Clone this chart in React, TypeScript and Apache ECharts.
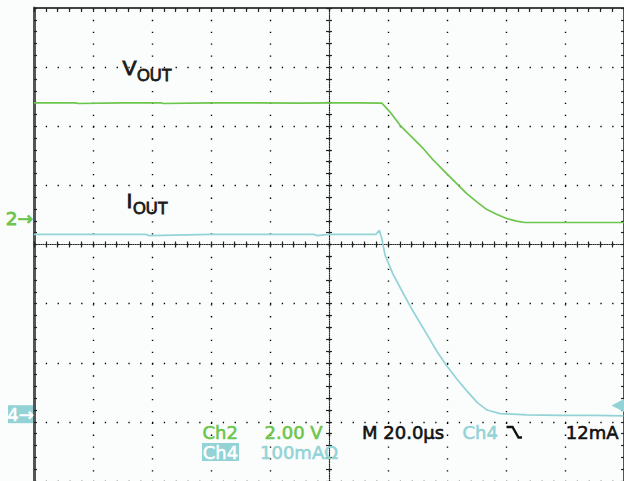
import React, { useEffect, useRef } from "react";
import * as echarts from "echarts";

// Scope settings
const GREEN = "#6cc54c";
const CYAN = "#93d3d6";
const TIME_PER_DIV_US = 20; // M 20.0µs
const CH2_VOLTS_PER_DIV = 2; // 2.00 V
const CH4_MA_PER_DIV = 100; // 100mAΩ
const CH2_GROUND_DIV = 0.44; // "2→" marker position (divisions above centre)
const CH4_GROUND_DIV = -2.87; // "4→" marker position
const TRIGGER_MA = 12;

// Ch2: VOUT (time in µs relative to screen centre, volts)
const voutTime = [-100, -86, -85, -70, -57, -56, -40, -25, -10, 0, 10, 17.9, 20.7, 24.1, 28.6, 32.0, 35.4, 39.9, 43.3, 46.7, 50.1, 53.4, 56.8, 60.2, 63.6, 66.4, 75, 100];
const voutVolts = [3.91, 3.91, 3.89, 3.91, 3.91, 3.89, 3.91, 3.91, 3.9, 3.91, 3.91, 3.905, 3.6, 3.15, 2.7, 2.36, 1.97, 1.52, 1.18, 0.84, 0.56, 0.31, 0.145, 0, -0.09, -0.135, -0.135, -0.135];

// Ch4: IOUT (time in µs, milliamps)
const ioutTime = [-100, -80, -62, -61, -40, -20, -5, -4, 0, 10, 15.9, 17.05, 17.9, 19.0, 21.7, 25.1, 28.5, 33.2, 36.6, 40.0, 43.4, 46.8, 50.2, 53.6, 58.0, 67.0, 78.3, 90, 99.8];
const ioutMilliamps = [304, 304, 304, 302, 304, 304, 304, 302, 304, 304, 304, 311, 297, 269, 237, 205, 174, 135, 106, 81, 59, 39, 20, 7, 1, -1, -2, -2, -3];

const statusRow1 = ["Ch2", "2.00 V", "M 20.0µs", "Ch4", "12mA"];
const statusRow2 = ["Ch4", "100mAΩ"];

const DIV_X = 5;
const DIV_Y = 4;

export default function App() {
  const ref = useRef<HTMLDivElement>(null);
  useEffect(() => {
    if (!ref.current) return;
    const chart = echarts.init(ref.current, undefined, { renderer: "svg" });
    const dotGridV = { color: "#000", width: 1.4, type: [1.3, 10.55] as any };
    const dotGridH = { color: "#000", width: 1.4, type: [1.3, 10.5] as any };
    const tickStyle = { color: "#222", width: 1.2 };
    const ch2Min = (-DIV_Y - CH2_GROUND_DIV) * CH2_VOLTS_PER_DIV;
    const ch2Max = (DIV_Y - CH2_GROUND_DIV) * CH2_VOLTS_PER_DIV;
    const ch4Min = (-DIV_Y - CH4_GROUND_DIV) * CH4_MA_PER_DIV;
    const ch4Max = (DIV_Y - CH4_GROUND_DIV) * CH4_MA_PER_DIV;
    const tMax = DIV_X * TIME_PER_DIV_US;

    chart.setOption({
      animation: false,
      backgroundColor: "#fbfdfd",
      grid: { left: 34, top: 8, width: 590, height: 474 },
      xAxis: [
        {
          type: "value", min: -tMax, max: tMax, interval: TIME_PER_DIV_US, position: "top",
          axisLine: { show: true, onZero: false, lineStyle: { color: "#444", width: 2 } },
          axisTick: { show: true, inside: true, length: 4, lineStyle: tickStyle },
          minorTick: { show: true, splitNumber: 5, length: 4, lineStyle: tickStyle },
          axisLabel: { show: false },
          splitLine: { show: true, lineStyle: dotGridV },
        },
        {
          type: "value", min: -tMax, max: tMax, interval: TIME_PER_DIV_US, position: "bottom",
          axisLine: { show: true, onZero: true, onZeroAxisIndex: 0, lineStyle: { color: "#222", width: 1.2, type: [1, 1.3] as any } },
          axisTick: { show: true, inside: true, length: 3, lineStyle: tickStyle },
          minorTick: { show: true, splitNumber: 5, length: 3, lineStyle: tickStyle },
          axisLabel: { show: false },
          splitLine: { show: false },
        },
        {
          type: "value", min: -tMax, max: tMax, interval: TIME_PER_DIV_US, position: "bottom",
          axisLine: { show: false, onZero: true, onZeroAxisIndex: 0 },
          axisTick: { show: true, inside: false, length: 3, lineStyle: tickStyle },
          minorTick: { show: true, splitNumber: 5, length: 3, lineStyle: tickStyle },
          axisLabel: { show: false },
          splitLine: { show: false },
        },
      ],
      yAxis: [
        {
          type: "value", min: -DIV_Y, max: DIV_Y, interval: 1, position: "left",
          axisLine: { show: true, onZero: false, lineStyle: { color: "#555", width: 3 } },
          axisTick: { show: true, inside: true, length: 3, lineStyle: tickStyle },
          minorTick: { show: true, splitNumber: 5, length: 3, lineStyle: tickStyle },
          axisLabel: { show: false },
          splitLine: { show: true, lineStyle: dotGridH },
        },
        {
          type: "value", min: -DIV_Y, max: DIV_Y, interval: 1, position: "left",
          axisLine: { show: true, onZero: true, onZeroAxisIndex: 0, lineStyle: { color: "#222", width: 1.2, type: [1, 1.3] as any } },
          axisTick: { show: true, inside: true, length: 3, lineStyle: tickStyle },
          minorTick: { show: true, splitNumber: 5, length: 3, lineStyle: tickStyle },
          axisLabel: { show: false },
          splitLine: { show: false },
        },
        {
          type: "value", min: -DIV_Y, max: DIV_Y, interval: 1, position: "left",
          axisLine: { show: false, onZero: true, onZeroAxisIndex: 0 },
          axisTick: { show: true, inside: false, length: 3, lineStyle: tickStyle },
          minorTick: { show: true, splitNumber: 5, length: 3, lineStyle: tickStyle },
          axisLabel: { show: false },
          splitLine: { show: false },
        },
        { type: "value", show: false, min: ch2Min, max: ch2Max },
        { type: "value", show: false, min: ch4Min, max: ch4Max },
        {
          type: "value", min: -DIV_Y, max: DIV_Y, interval: 1, position: "right",
          axisLine: { show: true, onZero: false, lineStyle: { color: "#555", width: 2 } },
          axisTick: { show: true, inside: true, length: 3, lineStyle: tickStyle },
          minorTick: { show: true, splitNumber: 5, length: 3, lineStyle: tickStyle },
          axisLabel: { show: false },
          splitLine: { show: false },
        },
      ],
      series: [
        {
          type: "line", name: "VOUT", xAxisIndex: 0, yAxisIndex: 3, symbol: "none",
          lineStyle: { color: GREEN, width: 1.7 },
          data: voutTime.map((t, i) => [t, voutVolts[i]]),
        },
        {
          type: "line", name: "IOUT", xAxisIndex: 0, yAxisIndex: 4, symbol: "none",
          lineStyle: { color: CYAN, width: 1.7 },
          data: ioutTime.map((t, i) => [t, ioutMilliamps[i]]),
        },
      ],
    });

    const y2 = chart.convertToPixel({ yAxisIndex: 3 } as any, 0) as number;
    const y4 = chart.convertToPixel({ yAxisIndex: 4 } as any, 0) as number;
    const yT = chart.convertToPixel({ yAxisIndex: 4 } as any, TRIGGER_MA) as number;
    const sf = "DejaVu Sans";
    const lf = "Liberation Sans";
    const txt = (x: number, y: number, text: string, fill: string, size: number, family: string, align = "left", bold = 0.6) => ({
      type: "text", x, y, z: 10,
      style: { text, fill, font: `${size}px "${family}"`, align, verticalAlign: "middle", stroke: fill, lineWidth: bold },
    });

    chart.setOption({
      graphic: [
        txt(33, y2, "2→", GREEN, 18.5, sf, "right", 0.8),
        { type: "rect", shape: { x: 8, y: y4 - 9, width: 25, height: 18 }, style: { fill: CYAN }, z: 10 },
        txt(20.5, y4, "4→", "#ffffff", 18, sf, "center", 0.6),
        { type: "polygon", shape: { points: [[611.5, yT - 1.5], [624, yT - 8], [624, yT + 5]] }, style: { fill: CYAN }, z: 10 },
        txt(122.5, 67.5, "V", "#1a1a1a", 21, lf, "left", 0.9),
        txt(137, 74.5, "OUT", "#1a1a1a", 16.5, lf, "left", 0.8),
        txt(126.5, 200.5, "I", "#1a1a1a", 21, lf, "left", 0.9),
        txt(133, 208, "OUT", "#1a1a1a", 16.5, lf, "left", 0.8),
        txt(202.5, 432, statusRow1[0], GREEN, 18, sf),
        txt(264.5, 432, statusRow1[1], GREEN, 18, sf),
        txt(362, 432, statusRow1[2], "#111", 18, sf),
        txt(462.5, 432, statusRow1[3], CYAN, 18, sf),
        {
          type: "polyline", z: 10,
          shape: { points: [[506.5, 427], [512.5, 427], [518.5, 437.5], [522, 437.5]] },
          style: { stroke: "#111", lineWidth: 2.4, fill: null },
        },
        txt(618.5, 432, statusRow1[4], "#111", 18, sf, "right"),
        { type: "rect", shape: { x: 202, y: 443, width: 37, height: 18 }, style: { fill: CYAN }, z: 10 },
        txt(220.5, 452, statusRow2[0], "#ffffff", 18, sf, "center", 0.5),
        txt(260, 452, statusRow2[1], CYAN, 18, sf),
      ],
    });

    return () => chart.dispose();
  }, []);
  return <div ref={ref} style={{ position: "absolute", left: 0, top: 0, width: 624, height: 481 }} />;
}
